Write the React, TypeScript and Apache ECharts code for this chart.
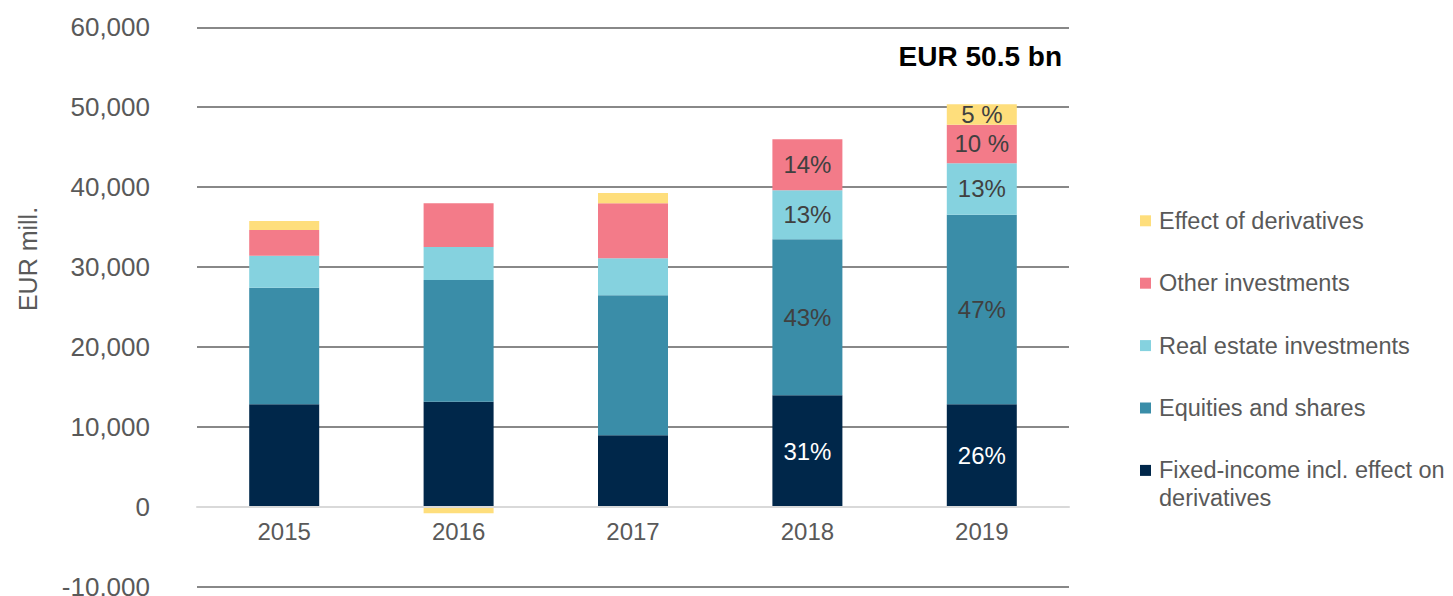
import React, { useEffect, useRef } from "react";
import * as echarts from "echarts";

const years = ["2015", "2016", "2017", "2018", "2019"];
const fixedIncome = [12820, 13140, 8940, 13940, 12820];
const equities = [14590, 15230, 17520, 19530, 23730];
const realEstate = [4000, 4130, 4630, 6130, 6430];
const otherInvestments = [3220, 5470, 6880, 6380, 4830];
const derivatives = [1130, -830, 1290, 0, 2550];

const fixedLabels = ["", "", "", "31%", "26%"];
const equitiesLabels = ["", "", "", "43%", "47%"];
const realEstateLabels = ["", "", "", "13%", "13%"];
const otherLabels = ["", "", "", "14%", "10 %"];
const derivLabels = ["", "", "", "", "5 %"];

const seriesNames = [
  "Fixed-income incl. effect on\nderivatives",
  "Equities and shares",
  "Real estate investments",
  "Other investments",
  "Effect of derivatives",
];
const colors = ["#00274A", "#3A8DA8", "#85D2DF", "#F37B89", "#FEDE7C"];
const titleText = "EUR 50.5 bn";
const yAxisName = "EUR mill.";

const Y_MIN = -10000;
const Y_MAX = 60000;

const FONT = "'Liberation Sans', Arial, sans-serif";

export default function App() {
  const ref = useRef<HTMLDivElement>(null);
  useEffect(() => {
    if (!ref.current) return;
    const chart = echarts.init(ref.current, undefined, { renderer: "svg" });
    const values = [fixedIncome, equities, realEstate, otherInvestments, derivatives];
    const labels = [fixedLabels, equitiesLabels, realEstateLabels, otherLabels, derivLabels];

    const series = values.map((vals, s) => ({
      name: seriesNames[s],
      type: "bar",
      stack: "total",
      barWidth: 70,
      itemStyle: { color: colors[s] },
      data: vals.map((v, i) => ({
        value: v,
        label: {
          show: !!labels[s][i],
          formatter: labels[s][i],
          position: "inside",
          fontSize: 24,
          fontFamily: FONT,
          color: s === 0 ? "#ffffff" : "#404040",
        },
      })),
    }));

    const legendOrder = [4, 3, 2, 1, 0];
    const legendGraphics: any[] = [];
    legendOrder.forEach((s, k) => {
      const cy = 220.8 + k * 62.4;
      legendGraphics.push({
        type: "rect",
        shape: { x: 1140, y: cy - 5.5, width: 11, height: 11 },
        style: { fill: colors[s] },
      });
      legendGraphics.push({
        type: "text",
        x: 1159,
        y: cy - 14,
        style: {
          text: seriesNames[s],
          fontSize: 23.5,
          lineHeight: 28,
          fontFamily: FONT,
          fill: "#595959",
          verticalAlign: "top",
          align: "left",
        },
      });
    });

    const gridColors = ["#888888", "#d9d9d9", "#888888", "#888888", "#888888", "#888888", "#888888", "#888888"];

    const gridTop = 27.3;
    const gridBottom = 9.4;
    const plotH = 596 - gridTop - gridBottom;
    // distance from grid bottom up to the zero line
    const zeroOffset = (plotH * (0 - Y_MIN)) / (Y_MAX - Y_MIN);

    chart.setOption({
      animation: false,
      grid: {
        left: 197,
        right: 384,
        top: gridTop,
        bottom: gridBottom,
        containLabel: false,
        outerBoundsMode: "none",
      },
      xAxis: {
        type: "category",
        data: years,
        offset: -zeroOffset,
        axisLine: { show: true, onZero: false, lineStyle: { color: "#d9d9d9", width: 2 } },
        axisTick: { show: false },
        axisLabel: { fontSize: 24, margin: 13, color: "#595959", fontFamily: FONT },
        z: 3,
      },
      yAxis: {
        type: "value",
        min: Y_MIN,
        max: Y_MAX,
        interval: 10000,
        axisLine: { show: false },
        axisTick: { show: false },
        axisLabel: {
          fontSize: 26,
          lineHeight: 18,
          margin: 47,
          color: "#595959",
          fontFamily: FONT,
          formatter: (v: number) => v.toLocaleString("en-US"),
        },
        splitLine: { show: true, lineStyle: { color: gridColors, width: 2 } },
      },
      series,
      graphic: [
        {
          type: "text",
          x: 1062,
          y: 56,
          style: {
            text: titleText,
            fontSize: 28,
            fontWeight: "bold",
            fontFamily: FONT,
            fill: "#000000",
            align: "right",
            verticalAlign: "middle",
          },
        },
        {
          type: "text",
          x: 27.5,
          y: 259,
          rotation: Math.PI / 2,
          style: {
            text: yAxisName,
            fontSize: 25,
            fontFamily: FONT,
            fill: "#595959",
            align: "center",
            verticalAlign: "middle",
          },
        },
        ...legendGraphics,
      ],
    });
    return () => chart.dispose();
  }, []);
  return (
    <div
      ref={ref}
      style={{ position: "fixed", left: 0, top: 0, width: 1453, height: 596, background: "#fff" }}
    />
  );
}
